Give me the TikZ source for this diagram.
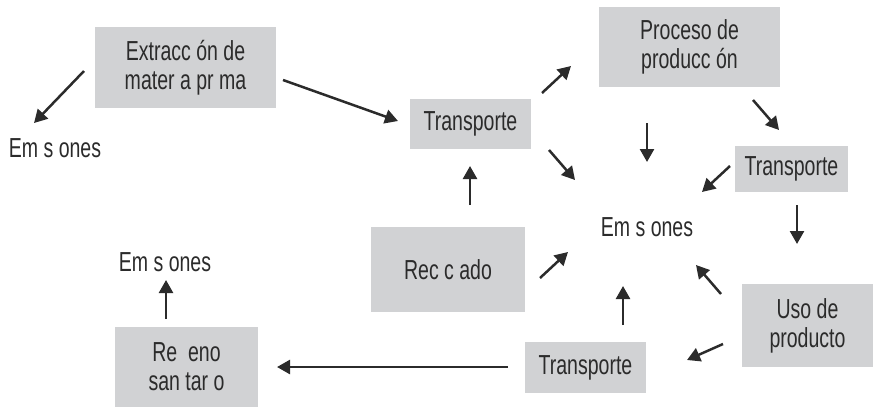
\documentclass[tikz,border=0pt]{standalone}
\usepackage{fontspec}
\setmainfont{Liberation Sans}[FakeStretch=0.71]
\usetikzlibrary{arrows.meta}
\definecolor{boxgray}{HTML}{D1D2D4}
\definecolor{ink}{HTML}{2B2B2B}
\begin{document}
\begin{tikzpicture}[x=1pt,y=-1pt,
  box/.style={fill=boxgray,draw=none,inner sep=0pt,align=center,text=ink,
    font=\fontsize{27.5}{29}\selectfont},
  lbl/.style={inner sep=0pt,text=ink,font=\fontsize{27.5}{29}\selectfont},
  arr/.style={draw=ink,line width=2.5pt,-{Triangle[length=13pt,width=14pt]}}]
\useasboundingbox (0,0) rectangle (874,407);
% boxes
\node[box,minimum width=181pt,minimum height=81pt] (ext) at (185.5,67.5) {Extracc ón de\\mater a pr ma};
\node[box,minimum width=121pt,minimum height=50pt] (t1) at (470.5,124) {Transporte};
\node[box,minimum width=181pt,minimum height=80pt] (proc) at (689.5,47) {Proceso de\\producc ón};
\node[box,minimum width=113pt,minimum height=46pt] (t2) at (791.5,169) {Transporte};
\node[box,minimum width=154pt,minimum height=85pt] (rec) at (448,269.5) {Rec c ado};
\node[box,minimum width=131pt,minimum height=83pt] (uso) at (807.5,325.5) {Uso de\\producto};
\node[box,minimum width=121pt,minimum height=51pt] (t3) at (585.5,367.5) {Transporte};
\node[box,minimum width=143pt,minimum height=80pt] (rel) at (186.5,367) {Re\ \ eno\\san tar o};
% emission labels
\node[lbl] (emA) at (55,148) {Em s ones};
\node[lbl] (emC) at (647,227) {Em s ones};
\node[lbl] (emB) at (165,262) {Em s ones};
% arrow end points
\coordinate (a1s) at (84,71);   \coordinate (a1e) at (34,123);
\coordinate (a2s) at (283,80);  \coordinate (a2e) at (398,121);
\coordinate (a3s) at (542,93);  \coordinate (a3e) at (571,66);
\coordinate (a4s) at (753,100); \coordinate (a4e) at (779,130);
\coordinate (a5s) at (647,123); \coordinate (a5e) at (647,162);
\coordinate (a6s) at (549,150); \coordinate (a6e) at (575,180);
\coordinate (a7s) at (730,166); \coordinate (a7e) at (702,192);
\coordinate (a8s) at (797,205); \coordinate (a8e) at (797,244);
\coordinate (a9s) at (470,205); \coordinate (a9e) at (470,166);
\coordinate (a10s) at (540,278); \coordinate (a10e) at (568,252);
\coordinate (a11s) at (721,294); \coordinate (a11e) at (696,265);
\coordinate (a12s) at (723,344); \coordinate (a12e) at (687,360);
\coordinate (a13s) at (623,325); \coordinate (a13e) at (623,286);
\coordinate (a14s) at (508,367); \coordinate (a14e) at (277,367);
\coordinate (a15s) at (166,319); \coordinate (a15e) at (166,280);
\foreach \i in {1,...,15} {\draw[arr] (a\i s) -- (a\i e);}
\end{tikzpicture}
\end{document}
